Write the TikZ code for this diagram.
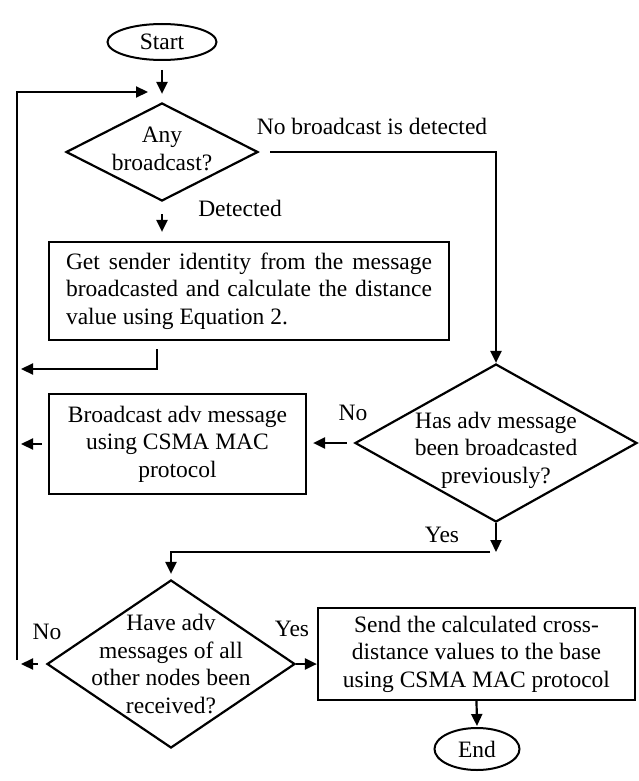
\documentclass[tikz,border=0pt]{standalone}
\usepackage{fontspec}
\setmainfont{Liberation Serif}
\usetikzlibrary{shapes.geometric,arrows.meta}
\hyphenpenalty=10000

\begin{document}
\begin{tikzpicture}
[x=1pt,y=1pt,%
  every node/.style={font=\fontsize{23.5}{27.5}\selectfont},%
  flowLine/.style={-{Triangle[length=12pt,width=11pt]},line width=2.2pt},%
  plainBox/.style={draw,rectangle,line width=2.2pt,inner sep=0pt},%
  question/.style={draw,diamond,line width=2.2pt,inner sep=0pt},%
  terminal/.style={draw,ellipse,line width=2pt,inner sep=0pt}]
\useasboundingbox (0,0) rectangle (638,-781);
%% shapes
\node[terminal,minimum width=109pt,minimum height=36pt] (start) at (162,-42) {Start};
\node[question,minimum width=192pt,minimum height=98pt] (any) at (162,-152) {};
\node[align=center,inner sep=0pt] (anyTxt) at (162,-149) {Any\\broadcast?};
\node[plainBox,minimum width=400pt,minimum height=98pt,text width=366pt,align=justify]
  (getId) at (249,-291) {Get sender identity from the message broadcasted and calculate the distance value using Equation 2.};
\node[question,minimum width=282pt,minimum height=158pt] (hasAdv) at (496,-443) {};
\node[align=center,inner sep=0pt] (hasAdvTxt) at (496,-450) {Has adv message\\been broadcasted\\previously?};
\node[plainBox,minimum width=257pt,minimum height=100pt,align=center]
  (bcast) at (177.5,-444) {Broadcast adv message\\using CSMA MAC\\protocol};
\node[question,minimum width=248pt,minimum height=168pt] (allRecv) at (171,-664) {};
\node[align=center,inner sep=0pt] (allRecvTxt) at (171,-664) {Have adv\\messages of all\\other nodes been\\received?};
\node[plainBox,minimum width=317pt,minimum height=92pt,align=center]
  (send) at (476.5,-654) {Send the calculated cross-\\distance values to the base\\using CSMA MAC protocol};
\node[terminal,minimum width=85pt,minimum height=42pt] (end) at (477,-749) {End};
%% labels
\node (noBcast) at (372,-126) {No broadcast is detected};
\node (detected) at (240,-208) {Detected};
\node (noPrev) at (353,-413) {No};
\node (yesPrev) at (442,-535) {Yes};
\node (noRecv) at (47,-632) {No};
\node (yesRecv) at (292,-629) {Yes};
%% return line on the left
\coordinate (retTop) at (17,-92);
\coordinate (retBot) at (17,-660);
\coordinate (loopIn) at (148,-92);
\foreach \name/\y in {back1/-369, back2/-444, back3/-664}
{
  \coordinate (\name) at (21,\y);
}
\coordinate (yesTurn) at (496,-552);
\draw[flowLine] (retBot) -- (retTop) -- (loopIn);
%% connectors
\draw[flowLine,shorten <=9pt,shorten >=8pt] (start.south) -- (any.north);
\draw[flowLine,shorten <=12pt,shorten >=9pt] (any.south) -- (any.south |- getId.north);
\draw[flowLine,shorten <=11pt] (any.east) -| (hasAdv.north);
\draw[flowLine] ([xshift=-92pt,yshift=-8pt]getId.south) |- (back1);
\draw[flowLine,shorten <=7pt,shorten >=6pt] (hasAdv.west) -- (hasAdv.west -| bcast.east);
\draw[flowLine,shorten <=6pt] (bcast.west) -- (back2);
\draw[flowLine] (hasAdv.south) -- (yesTurn);
\draw[flowLine,shorten >=5pt] ([xshift=-6pt]yesTurn) -| (allRecv.north);
\draw[flowLine,shorten <=8pt] (allRecv.west) -- (back3);
\draw[flowLine] (allRecv.east) -- (allRecv.east -| send.west);
\draw[flowLine,shorten >=1pt] (send.south) -- (end.north);
\end{tikzpicture}
\end{document}
